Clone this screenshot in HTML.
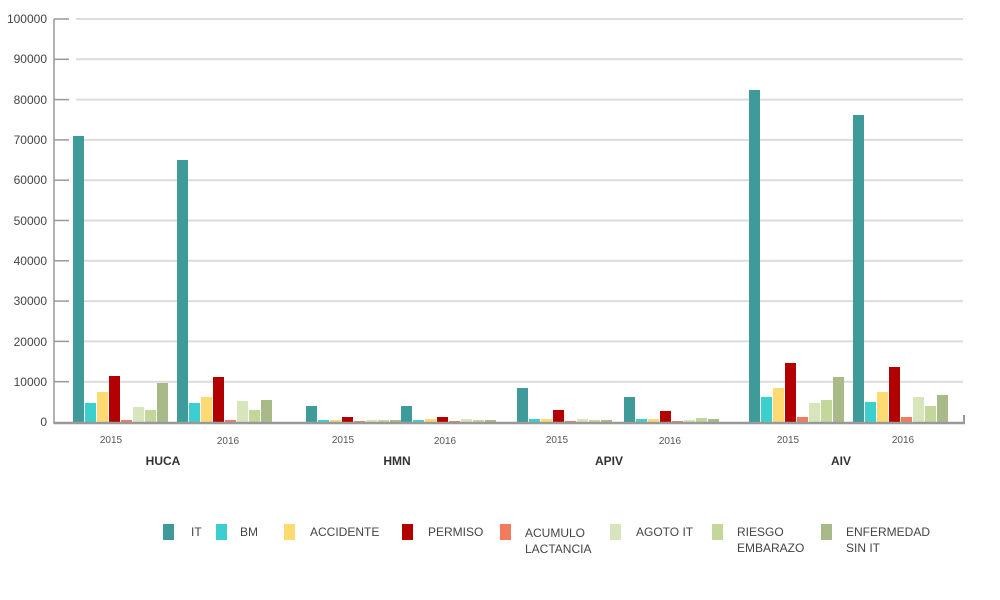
<!DOCTYPE html>
<html><head><meta charset="utf-8"><style>body{margin:0;background:#fff}svg{display:block}text{font-family:"Liberation Sans",sans-serif}</style></head><body>
<svg width="1000" height="600" xmlns="http://www.w3.org/2000/svg">
<g stroke="#dcdcdc" stroke-width="2">
<line x1="76" x2="963" y1="19" y2="19"/><line x1="76" x2="963" y1="59.3" y2="59.3"/><line x1="76" x2="963" y1="99.6" y2="99.6"/><line x1="76" x2="963" y1="139.9" y2="139.9"/><line x1="76" x2="963" y1="180.2" y2="180.2"/><line x1="76" x2="963" y1="220.5" y2="220.5"/><line x1="76" x2="963" y1="260.8" y2="260.8"/><line x1="76" x2="963" y1="301.1" y2="301.1"/><line x1="76" x2="963" y1="341.4" y2="341.4"/><line x1="76" x2="963" y1="381.7" y2="381.7"/>
</g>
<g stroke="#999" stroke-width="1.5">
<line x1="54" x2="69" y1="19" y2="19"/><line x1="54" x2="69" y1="59.3" y2="59.3"/><line x1="54" x2="69" y1="99.6" y2="99.6"/><line x1="54" x2="69" y1="139.9" y2="139.9"/><line x1="54" x2="69" y1="180.2" y2="180.2"/><line x1="54" x2="69" y1="220.5" y2="220.5"/><line x1="54" x2="69" y1="260.8" y2="260.8"/><line x1="54" x2="69" y1="301.1" y2="301.1"/><line x1="54" x2="69" y1="341.4" y2="341.4"/><line x1="54" x2="69" y1="381.7" y2="381.7"/>
<line x1="54" x2="54" y1="19" y2="424"/>
</g>
<g font-size="12" fill="#444" text-anchor="end">
<text x="47" y="23">100000</text><text x="47" y="63">90000</text><text x="47" y="104">80000</text><text x="47" y="144">70000</text><text x="47" y="184">60000</text><text x="47" y="225">50000</text><text x="47" y="265">40000</text><text x="47" y="305">30000</text><text x="47" y="346">20000</text><text x="47" y="386">10000</text><text x="47" y="426">0</text>
</g>
<g font-size="10" fill="#555" text-anchor="middle">
<text x="111" y="443">2015</text><text x="228" y="444">2016</text><text x="343" y="443">2015</text><text x="445" y="444">2016</text><text x="557" y="443">2015</text><text x="670" y="444">2016</text><text x="788" y="443">2015</text><text x="903" y="443">2016</text>
</g>
<g font-size="12" font-weight="bold" fill="#333" text-anchor="middle">
<text x="163" y="465">HUCA</text><text x="397" y="465">HMN</text><text x="609" y="465">APIV</text><text x="841" y="465">AIV</text>
</g>
<g font-size="12" fill="#444">
<rect x="163" y="524" width="11" height="16" fill="#3f9b9a"/><text x="191" y="536">IT</text>
<rect x="216" y="524" width="11" height="16" fill="#3ccfcf"/><text x="240" y="536">BM</text>
<rect x="284" y="524" width="11" height="16" fill="#fedb72"/><text x="310" y="536">ACCIDENTE</text>
<rect x="402" y="524" width="11" height="16" fill="#b20000"/><text x="428" y="536">PERMISO</text>
<rect x="500" y="524" width="11" height="16" fill="#f07b5e"/><text x="525" y="537">ACUMULO</text><text x="525" y="553">LACTANCIA</text>
<rect x="610" y="524" width="11" height="16" fill="#d8e4bc"/><text x="636" y="536">AGOTO IT</text>
<rect x="712" y="524" width="11" height="16" fill="#c4d79b"/><text x="737" y="536">RIESGO</text><text x="737" y="552">EMBARAZO</text>
<rect x="821" y="524" width="11" height="16" fill="#a9ba89"/><text x="846" y="536">ENFERMEDAD</text><text x="846" y="552">SIN IT</text>
</g>
<g>
<rect x="73" y="136" width="11" height="287" fill="#3f9b9a"/><rect x="85" y="403" width="11" height="20" fill="#3ccfcf"/><rect x="97" y="392" width="11" height="31" fill="#fedb72"/><rect x="109" y="376" width="11" height="47" fill="#b20000"/><rect x="121" y="420" width="11" height="3" fill="#f07b5e"/><rect x="133" y="407" width="11" height="16" fill="#d8e4bc"/><rect x="145" y="410" width="11" height="13" fill="#c4d79b"/><rect x="157" y="383" width="11" height="40" fill="#a9ba89"/>
<rect x="177" y="160" width="11" height="263" fill="#3f9b9a"/><rect x="189" y="403" width="11" height="20" fill="#3ccfcf"/><rect x="201" y="397" width="11" height="26" fill="#fedb72"/><rect x="213" y="377" width="11" height="46" fill="#b20000"/><rect x="225" y="420" width="11" height="3" fill="#f07b5e"/><rect x="237" y="401" width="11" height="22" fill="#d8e4bc"/><rect x="249" y="410" width="11" height="13" fill="#c4d79b"/><rect x="261" y="400" width="11" height="23" fill="#a9ba89"/>
<rect x="306" y="406" width="11" height="17" fill="#3f9b9a"/><rect x="318" y="420" width="11" height="3" fill="#3ccfcf"/><rect x="330" y="420" width="11" height="3" fill="#fedb72"/><rect x="342" y="417" width="11" height="6" fill="#b20000"/><rect x="354" y="421" width="11" height="2" fill="#f07b5e"/><rect x="366" y="420" width="11" height="3" fill="#d8e4bc"/><rect x="378" y="420" width="11" height="3" fill="#c4d79b"/><rect x="390" y="420" width="11" height="3" fill="#a9ba89"/>
<rect x="401" y="406" width="11" height="17" fill="#3f9b9a"/><rect x="413" y="420" width="11" height="3" fill="#3ccfcf"/><rect x="425" y="419" width="11" height="4" fill="#fedb72"/><rect x="437" y="417" width="11" height="6" fill="#b20000"/><rect x="449" y="421" width="11" height="2" fill="#f07b5e"/><rect x="461" y="419" width="11" height="4" fill="#d8e4bc"/><rect x="473" y="420" width="11" height="3" fill="#c4d79b"/><rect x="485" y="420" width="11" height="3" fill="#a9ba89"/>
<rect x="517" y="388" width="11" height="35" fill="#3f9b9a"/><rect x="529" y="419" width="11" height="4" fill="#3ccfcf"/><rect x="541" y="419" width="11" height="4" fill="#fedb72"/><rect x="553" y="410" width="11" height="13" fill="#b20000"/><rect x="565" y="421" width="11" height="2" fill="#f07b5e"/><rect x="577" y="419" width="11" height="4" fill="#d8e4bc"/><rect x="589" y="420" width="11" height="3" fill="#c4d79b"/><rect x="601" y="420" width="11" height="3" fill="#a9ba89"/>
<rect x="624" y="397" width="11" height="26" fill="#3f9b9a"/><rect x="636" y="419" width="11" height="4" fill="#3ccfcf"/><rect x="648" y="419" width="11" height="4" fill="#fedb72"/><rect x="660" y="411" width="11" height="12" fill="#b20000"/><rect x="672" y="421" width="11" height="2" fill="#f07b5e"/><rect x="684" y="420" width="11" height="3" fill="#d8e4bc"/><rect x="696" y="418" width="11" height="5" fill="#c4d79b"/><rect x="708" y="419" width="11" height="4" fill="#a9ba89"/>
<rect x="749" y="90" width="11" height="333" fill="#3f9b9a"/><rect x="761" y="397" width="11" height="26" fill="#3ccfcf"/><rect x="773" y="388" width="11" height="35" fill="#fedb72"/><rect x="785" y="363" width="11" height="60" fill="#b20000"/><rect x="797" y="417" width="11" height="6" fill="#f07b5e"/><rect x="809" y="403" width="11" height="20" fill="#d8e4bc"/><rect x="821" y="400" width="11" height="23" fill="#c4d79b"/><rect x="833" y="377" width="11" height="46" fill="#a9ba89"/>
<rect x="853" y="115" width="11" height="308" fill="#3f9b9a"/><rect x="865" y="402" width="11" height="21" fill="#3ccfcf"/><rect x="877" y="392" width="11" height="31" fill="#fedb72"/><rect x="889" y="367" width="11" height="56" fill="#b20000"/><rect x="901" y="417" width="11" height="6" fill="#f07b5e"/><rect x="913" y="397" width="11" height="26" fill="#d8e4bc"/><rect x="925" y="406" width="11" height="17" fill="#c4d79b"/><rect x="937" y="395" width="11" height="28" fill="#a9ba89"/>
</g>
<line x1="54" x2="965" y1="423" y2="423" stroke="#999" stroke-width="2.5"/>
<line x1="964" x2="964" y1="415" y2="424" stroke="#999" stroke-width="2"/>
</svg>
</body></html>
